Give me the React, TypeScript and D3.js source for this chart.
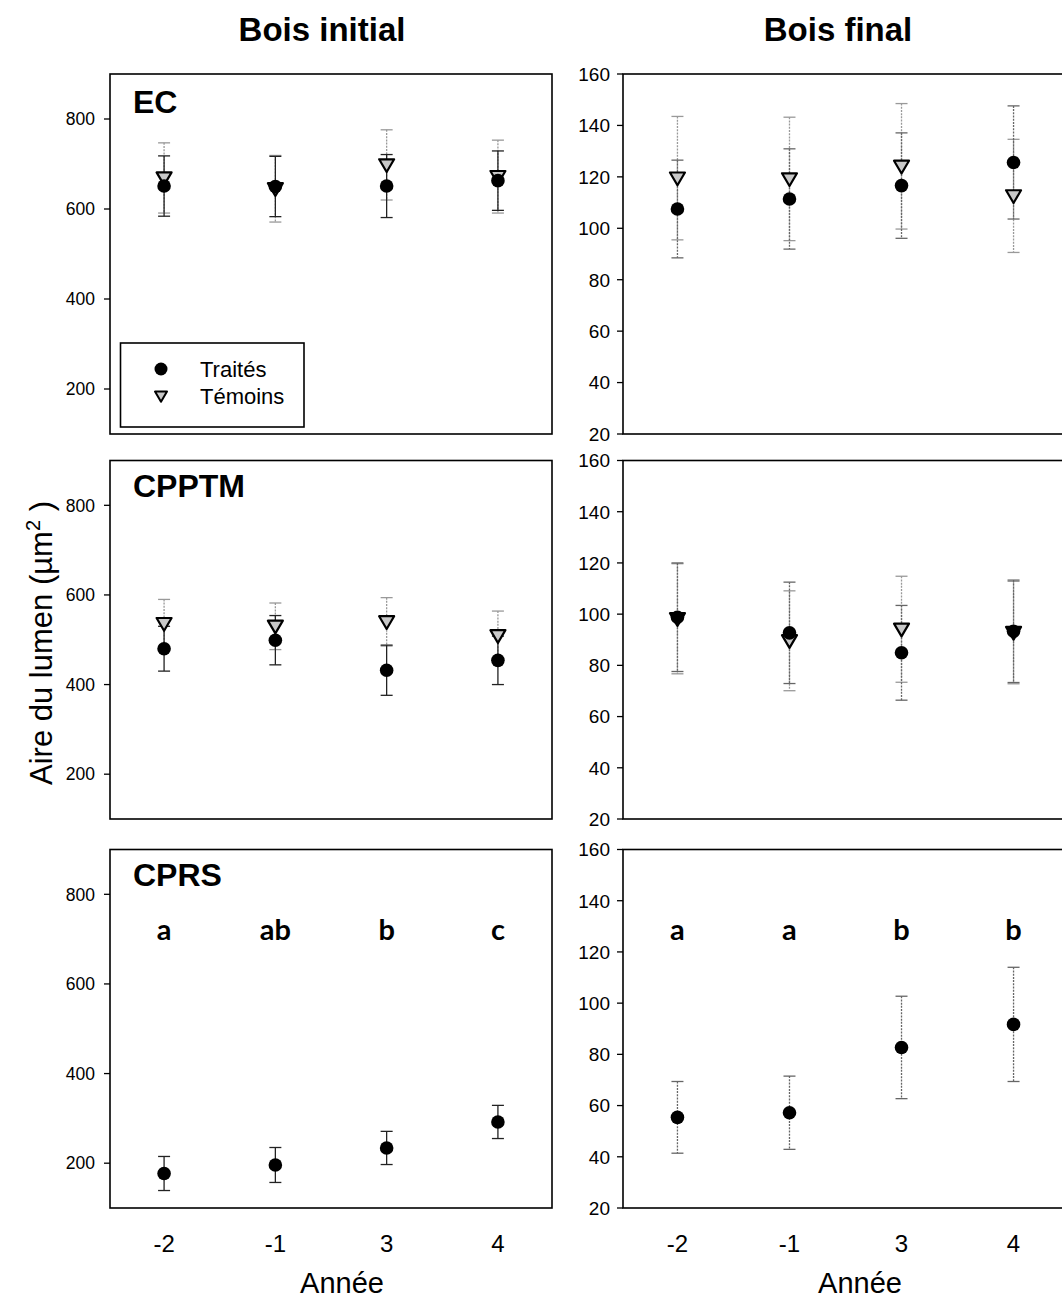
import React from "react";
import * as d3 from "d3";

// ---- Data ----
const years = ["-2", "-1", "3", "4"];
const rowNames = ["EC", "CPPTM", "CPRS"];
const colTitles = ["Bois initial", "Bois final"];
const seriesNames = ["Traités", "Témoins"];

// Bois initial (left column)
const ecInitTraites = [651, 650, 651, 663];
const ecInitTraitesSE = [67, 67, 70, 66];
const ecInitTemoins = [669, 645, 698, 672];
const ecInitTemoinsSE = [78, 74, 78, 81];

const cpptmInitTraites = [480, 499, 432, 454];
const cpptmInitTraitesSE = [50, 55, 56, 54];
const cpptmInitTemoins = [536, 530, 540, 509];
const cpptmInitTemoinsSE = [54, 52, 54, 55];

const cprsInitTraites = [177, 196, 234, 292];
const cprsInitTraitesSE = [38, 39, 37, 37];

// Bois final (right column)
const ecFinalTraites = [107.5, 111.4, 116.6, 125.6];
const ecFinalTraitesSE = [19, 19.5, 20.5, 22];
const ecFinalTemoins = [119.5, 119.2, 124.1, 112.6];
const ecFinalTemoinsSE = [24, 24, 24.4, 22];

const cpptmFinalTraites = [98.8, 92.7, 84.9, 93.3];
const cpptmFinalTraitesSE = [21.2, 19.8, 18.5, 20];
const cpptmFinalTemoins = [98.2, 89.6, 94.1, 92.8];
const cpptmFinalTemoinsSE = [21.5, 19.5, 20.7, 20];

const cprsFinalTraites = [55.4, 57.2, 82.7, 91.7];
const cprsFinalTraitesSE = [14, 14.3, 20, 22.3];

const lettersInit = ["a", "ab", "b", "c"];
const lettersFinal = ["a", "a", "b", "b"];

const initTicks = [200, 400, 600, 800];
const finalTicks = [20, 40, 60, 80, 100, 120, 140, 160];
const initDomain = [100, 900];
const finalDomain = [20, 160];

// ---- Layout ----
const W = 1062;
const H = 1298;
const rows = [
  { top: 74, bottom: 434 },
  { top: 460.5, bottom: 819 },
  { top: 849.5, bottom: 1208 },
];
const cols = [
  { left: 110, right: 552 },
  { left: 623, right: 1068 },
];
const FONT = "'Liberation Sans', Arial, Helvetica, sans-serif";

type Series = { name: string; mean: number[]; se: number[] };

const panels: { row: number; col: number; series: Series[]; letters?: string[] }[] = [
  {
    row: 0, col: 0,
    series: [
      { name: seriesNames[0], mean: ecInitTraites, se: ecInitTraitesSE },
      { name: seriesNames[1], mean: ecInitTemoins, se: ecInitTemoinsSE },
    ],
  },
  {
    row: 0, col: 1,
    series: [
      { name: seriesNames[0], mean: ecFinalTraites, se: ecFinalTraitesSE },
      { name: seriesNames[1], mean: ecFinalTemoins, se: ecFinalTemoinsSE },
    ],
  },
  {
    row: 1, col: 0,
    series: [
      { name: seriesNames[0], mean: cpptmInitTraites, se: cpptmInitTraitesSE },
      { name: seriesNames[1], mean: cpptmInitTemoins, se: cpptmInitTemoinsSE },
    ],
  },
  {
    row: 1, col: 1,
    series: [
      { name: seriesNames[0], mean: cpptmFinalTraites, se: cpptmFinalTraitesSE },
      { name: seriesNames[1], mean: cpptmFinalTemoins, se: cpptmFinalTemoinsSE },
    ],
  },
  {
    row: 2, col: 0,
    series: [{ name: seriesNames[0], mean: cprsInitTraites, se: cprsInitTraitesSE }],
    letters: lettersInit,
  },
  {
    row: 2, col: 1,
    series: [{ name: seriesNames[0], mean: cprsFinalTraites, se: cprsFinalTraitesSE }],
    letters: lettersFinal,
  },
];

const triPath = (cx: number, cy: number, s: number) =>
  `M${cx - s},${cy - s * 0.75}L${cx + s},${cy - s * 0.75}L${cx},${cy + s * 0.95}Z`;

function Panel({ p }: { p: (typeof panels)[number] }) {
  const r = rows[p.row];
  const c = cols[p.col];
  const isInit = p.col === 0;
  const x = d3.scalePoint<string>().domain(years).range([c.left, c.right]).padding(0.486);
  const y = d3
    .scaleLinear()
    .domain(isInit ? initDomain : finalDomain)
    .range([r.bottom, r.top]);
  const ticks = isInit ? initTicks : finalTicks;
  const tickFont = isInit ? 17.5 : 19;
  const capW = 6;

  const order = [...p.series].reverse();

  return (
    <g>
      {order.map((s) => {
        const tr = s.name === seriesNames[0];
        const col = tr ? (isInit ? "#222" : "#666") : "#999";
        return (
          <g key={"eb" + s.name}>
            {s.mean.map((m, i) => {
              const cx = x(years[i])!;
              const y1 = y(m + s.se[i]);
              const y2 = y(m - s.se[i]);
              return (
                <g key={i} stroke={col} strokeWidth={1.3}>
                  <line x1={cx} x2={cx} y1={y1} y2={y2} strokeDasharray={tr && isInit ? undefined : "2,1.2"} />
                  <line x1={cx - capW} x2={cx + capW} y1={y1} y2={y1} />
                  <line x1={cx - capW} x2={cx + capW} y1={y2} y2={y2} />
                </g>
              );
            })}
          </g>
        );
      })}
      {order.map((s) => {
        const tr = s.name === seriesNames[0];
        return (
          <g key={"mk" + s.name}>
            {s.mean.map((m, i) => {
              const cx = x(years[i])!;
              const cy = y(m);
              return tr ? (
                <circle key={i} cx={cx} cy={cy} r={6.8} fill="#000" />
              ) : (
                <path key={i} d={triPath(cx, cy, 7.5)} fill="#c8c8c8" stroke="#000" strokeWidth={2.2} strokeLinejoin="round" />
              );
            })}
          </g>
        );
      })}
      <rect x={c.left} y={r.top} width={c.right - c.left} height={r.bottom - r.top} fill="none" stroke="#000" strokeWidth={1.6} />
      {ticks.map((t) => (
        <g key={t}>
          <line x1={c.left - 6} x2={c.left} y1={y(t)} y2={y(t)} stroke="#000" strokeWidth={1.3} />
          <text
            x={c.left - (isInit ? 15 : 13)}
            y={y(t)}
            dy="0.36em"
            textAnchor="end"
            fontFamily={FONT}
            fontSize={tickFont}
          >
            {t}
          </text>
        </g>
      ))}
      {isInit && (
        <text x={133} y={r.top + (p.row === 0 ? 39 : 36)} fontFamily={FONT} fontWeight="bold" fontSize={32}>
          {rowNames[p.row]}
        </text>
      )}
      {p.letters &&
        p.letters.map((l, i) => (
          <text
            key={i}
            x={x(years[i])!}
            y={940}
            textAnchor="middle"
            fontFamily="Lato, 'Open Sans', sans-serif"
            fontWeight="bold"
            fontSize={29}
          >
            {l}
          </text>
        ))}
      {p.row === 2 &&
        years.map((yr) => (
          <text key={yr} x={x(yr)!} y={1252} textAnchor="middle" fontFamily={FONT} fontSize={24}>
            {yr}
          </text>
        ))}
      {p.row === 2 && (
        <text x={isInit ? 342 : 860} y={1293} textAnchor="middle" fontFamily={FONT} fontSize={29}>
          Année
        </text>
      )}
    </g>
  );
}

export default function App() {
  return (
    <svg
      width={W}
      height={H}
      viewBox={`0 0 ${W} ${H}`}
      style={{ position: "absolute", left: 0, top: 0, background: "#fff" }}
    >
      <rect width={W} height={H} fill="#fff" />
      <text x={322} y={41} textAnchor="middle" fontFamily={FONT} fontWeight="bold" fontSize={33}>
        {colTitles[0]}
      </text>
      <text x={838} y={41} textAnchor="middle" fontFamily={FONT} fontWeight="bold" fontSize={33}>
        {colTitles[1]}
      </text>
      {panels.map((p, i) => (
        <Panel key={i} p={p} />
      ))}
      {/* legend */}
      <rect x={120.5} y={343} width={183.5} height={84} fill="#fff" stroke="#000" strokeWidth={1.6} />
      <circle cx={161} cy={369} r={6.5} fill="#000" />
      <path d={triPath(161, 396, 6)} fill="#c8c8c8" stroke="#000" strokeWidth={2} strokeLinejoin="round" />
      <text x={200} y={377} fontFamily={FONT} fontSize={22}>
        {seriesNames[0]}
      </text>
      <text x={200} y={404} fontFamily={FONT} fontSize={22}>
        {seriesNames[1]}
      </text>
      <text
        transform="translate(52,643) rotate(-90)"
        textAnchor="middle"
        fontFamily={FONT}
        fontSize={31}
      >
        Aire du lumen (µm
        <tspan dy={-12} fontSize={20}>2</tspan>
        <tspan dy={12}> )</tspan>
      </text>
    </svg>
  );
}
